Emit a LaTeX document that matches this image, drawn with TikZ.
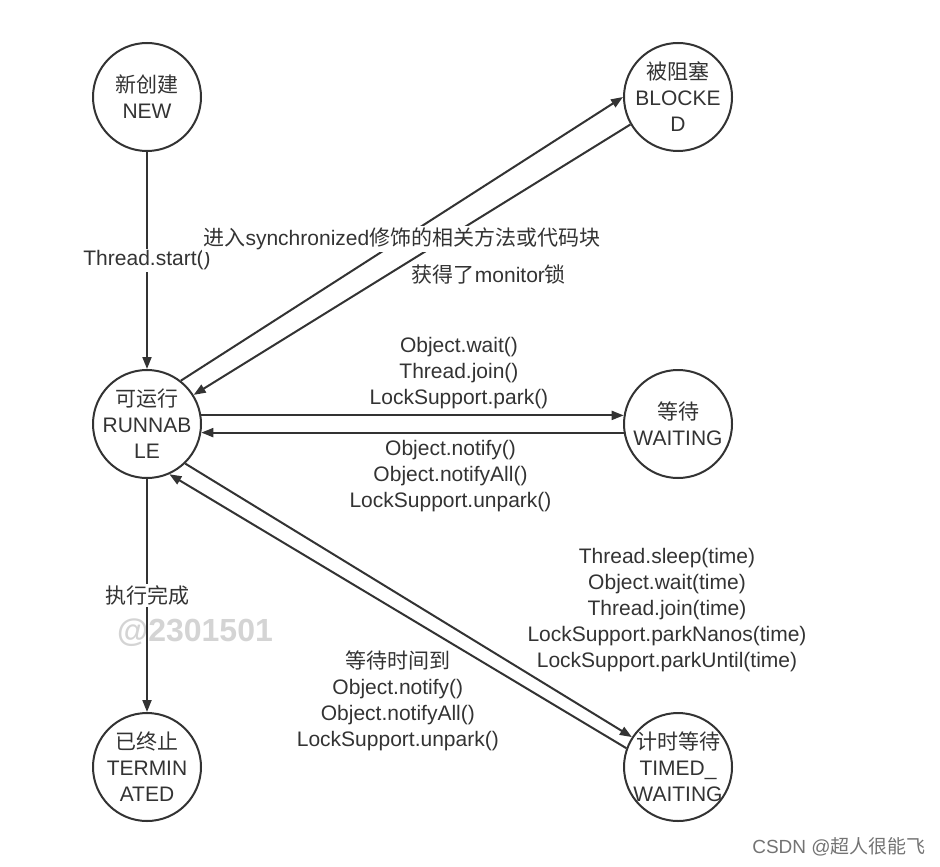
\documentclass[tikz,border=0pt]{standalone}
\usepackage{fontspec}
\setmainfont{Liberation Sans}
\newfontfamily\zh{Noto Sans CJK SC}
\usepackage{xcolor}
\usepackage{tikz}
\usetikzlibrary{automata, positioning, arrows.meta}
\definecolor{ink}{HTML}{333333}

\begin{document}
\begin{tikzpicture}[->, >={Triangle[length=6pt, width=4.5pt]}, line width=1pt, color=ink,
    font=\fontsize{10.5pt}{13pt}\selectfont, node distance=210.5pt,
    every state/.style={line width=1pt, draw=ink, minimum size=54pt, inner sep=-2pt, align=center},
    lbl/.style={inner sep=1pt, align=center, fill=white},
    calls/.style={inner sep=1pt, align=center}]
    \useasboundingbox (0,0) rectangle (470pt,-433pt);

    % watermarks
    \node[text=black!17, font=\fontsize{16pt}{18pt}\selectfont\bfseries] (wm) at (97.5pt,-316.5pt) {@2301501};
    \node[text=black!55, font=\fontsize{9.5pt}{11pt}\selectfont] (csdn) at (419.5pt,-423.5pt) {CSDN @{\zh 超人很能飞}};

    \node[state] (new) at (73.5pt,-48.5pt) {{\zh 新创建}\\NEW};
    \node[state] (runnable) [below=108.5pt of new] {{\zh 可运行}\\RUNNAB\\LE};
    \node[state] (terminated) [below=116.5pt of runnable] {{\zh 已终止}\\TERMIN\\ATED};
    \node[state] (blocked) [right=of new] {{\zh 被阻塞}\\BLOCKE\\D};
    \node[state] (waiting) [right=of runnable] {{\zh 等待}\\WAITING};
    \node[state] (timed) [right=of terminated] {{\zh 计时等待}\\TIMED\_\\WAITING};

    \draw (new) -- node[lbl] {Thread.start()} (runnable);
    \draw (runnable) -- node[lbl] {\zh 执行完成} (terminated);

    \draw (runnable.52) -- (blocked.180);
    \draw (blocked.210) -- (runnable.32);

    \draw (runnable.9) -- node[calls, above=2pt, pos=.61]
        {Object.wait()\\Thread.join()\\LockSupport.park()} (waiting.171);
    \draw (waiting.189) -- node[calls, below=2.3pt, pos=.41]
        {Object.notify()\\Object.notifyAll()\\LockSupport.unpark()} (runnable.-9);

    \draw (runnable.-46) -- (timed.147);
    \draw (timed.160) -- node[calls, below=18.5pt]
        {{\zh 等待时间到}\\Object.notify()\\Object.notifyAll()\\LockSupport.unpark()} (runnable.-66);

    % labels over the blocked lines
    \path (runnable.52) -- node[lbl] (sync) {{\zh 进入}synchronized{\zh 修饰的相关方法或代码块}} (blocked.180);
    \node[lbl, below=18pt of sync.center, anchor=center, xshift=43.5pt] (monitor) {{\zh 获得了}monitor{\zh 锁}};
    \node[calls, above=18.5pt of timed, xshift=-5.5pt] (sleep)
        {Thread.sleep(time)\\Object.wait(time)\\Thread.join(time)\\LockSupport.parkNanos(time)\\LockSupport.parkUntil(time)};
\end{tikzpicture}
\end{document}
